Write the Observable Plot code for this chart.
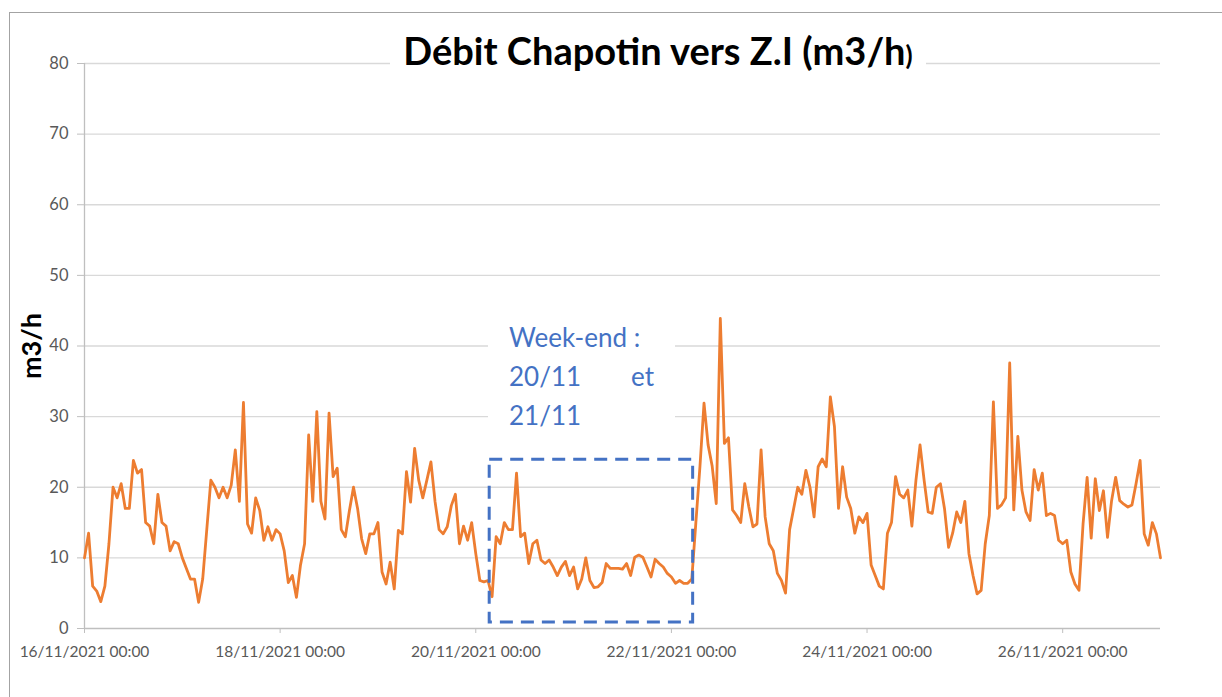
<!DOCTYPE html>
<html>
<head>
<meta charset="utf-8">
<script src="https://cdn.jsdelivr.net/npm/d3@7"></script>
<script src="https://cdn.jsdelivr.net/npm/@observablehq/plot@0.6"></script>
<style>
  html, body { margin: 0; padding: 0; background: #fff; }
  #wrap { position: relative; width: 1222px; height: 697px; overflow: hidden; font-family: Lato, "Open Sans", sans-serif; }
  #chart { position: absolute; left: 0; top: 0; }
  #border { position: absolute; left: 9px; top: 12px; right: -5px; bottom: -5px; border-top: 1.3px solid #a3a3a3; border-left: 1.3px solid #a3a3a3; pointer-events: none; }
  #title { position: absolute; left: 390px; top: 27px; width: 536px; height: 46px; line-height: 46px; text-align: center; background: #fff; font-size: 38px; font-weight: bold; color: #000; white-space: nowrap; }
  #title .small { font-size: 26px; }
  #note { position: absolute; left: 488px; top: 318px; width: 187px; height: 122px; background: #fff; color: #4472C4; font-size: 26px; line-height: 39px; padding-left: 21px; box-sizing: border-box; white-space: nowrap; }
  #note .gap { display: inline-block; width: 122px; }
</style>
</head>
<body>
<div id="wrap">
  <div id="chart"></div>
  <div id="border"></div>
  <div id="title">Débit Chapotin vers Z.I (m3/h<span class="small">)</span></div>
  <div id="note"><div>Week-end :</div><div><span class="gap">20/11</span>et</div><div>21/11</div></div>
</div>
<script>
// Hourly flow values (m3/h), one array per day starting at 00:00
const day16 = [10, 13.5, 6, 5.3, 3.8, 6, 12, 20, 18.5, 20.5, 17, 17, 23.8, 22, 22.5, 15, 14.5, 12, 19, 15, 14.5, 11, 12.3, 12];
const day17 = [10, 8.5, 7, 7, 3.7, 7, 14, 21, 20, 18.5, 20, 18.5, 20.3, 25.3, 18, 32, 14.8, 13.5, 18.5, 16.7, 12.5, 14.4, 12.5, 14];
const day18 = [13.4, 11, 6.5, 7.5, 4.4, 9, 12, 27.4, 18, 30.7, 18, 15.5, 30.5, 21.5, 22.7, 14, 13, 16.7, 20, 17, 12.7, 10.6, 13.4, 13.4];
const day19 = [15, 8, 6.3, 9.4, 5.6, 13.9, 13.4, 22.2, 17.9, 25.5, 21, 18.5, 21, 23.6, 18, 14, 13.4, 14.4, 17.4, 19, 12, 14.5, 12.5, 15];
const day20 = [10.6, 6.8, 6.6, 6.8, 4.5, 13, 12, 15, 14, 14, 22, 13, 13.5, 9.2, 12, 12.5, 9.7, 9.2, 9.7, 8.7, 7.5, 8.7, 9.5, 7.5];
const day21 = [8.7, 5.6, 7, 10, 6.8, 5.8, 5.9, 6.5, 9.2, 8.5, 8.5, 8.5, 8.4, 9.2, 7.5, 10.1, 10.4, 10.1, 8.7, 7.3, 9.8, 9.2, 8.7, 7.8];
const day22 = [7.3, 6.4, 6.8, 6.4, 6.4, 7, 15, 22.9, 31.9, 26, 23, 17.7, 43.9, 26.2, 27, 16.8, 16, 15, 20.5, 17.2, 14.4, 14.8, 25.3, 15.8];
const day23 = [12, 11, 7.8, 6.8, 5, 14, 17, 20, 19, 22.4, 20, 15.8, 22.9, 24, 22.9, 32.8, 28.6, 17, 22.9, 18.6, 17, 13.5, 15.8, 15];
const day24 = [16.3, 9, 7.5, 6, 5.6, 13.5, 15, 21.5, 19, 18.5, 19.6, 14.5, 21, 26, 21, 16.5, 16.3, 20, 20.5, 17, 11.5, 13.5, 16.5, 15];
const day25 = [18, 10.6, 7.5, 4.9, 5.4, 12, 16, 32.1, 17, 17.5, 18.5, 37.6, 16.8, 27.2, 19.6, 16.5, 15.3, 22.5, 19.6, 22, 16, 16.3, 16, 12.5];
const day26 = [12, 12.5, 8, 6.3, 5.4, 14.8, 21.4, 12.8, 21.2, 16.7, 19.5, 12.9, 18.1, 21.4, 18.1, 17.6, 17.2, 17.5, 20.5, 23.8, 13.4, 11.8, 15, 13.4];
const lastValue = [10];

const yTicks = [0, 10, 20, 30, 40, 50, 60, 70, 80];
const xTickLabels = ["16/11/2021 00:00", "18/11/2021 00:00", "20/11/2021 00:00", "22/11/2021 00:00", "24/11/2021 00:00", "26/11/2021 00:00"];
const xTickDays = [16, 18, 20, 22, 24, 26];

// Week-end annotation box (dates and flow range)
const boxStart = [2021, 10, 20, 3, 25];
const boxEnd = [2021, 10, 22, 5, 20];
const boxLow = 0.85;
const boxHigh = 23.9;

const series = [].concat(day16, day17, day18, day19, day20, day21, day22, day23, day24, day25, day26, lastValue);
const t0 = Date.UTC(2021, 10, 16);
const data = series.map((v, i) => ({ t: new Date(t0 + i * 3600e3), v }));
const xTicks = xTickDays.map(d => new Date(Date.UTC(2021, 10, d)));
const weekendBox = [{ x1: new Date(Date.UTC(...boxStart)), x2: new Date(Date.UTC(...boxEnd)), y1: boxLow, y2: boxHigh }];

const chart = Plot.plot({
  width: 1222,
  height: 697,
  marginTop: 63,
  marginLeft: 84,
  marginRight: 62,
  marginBottom: 69,
  style: { fontFamily: "Lato, 'Open Sans', sans-serif", fontSize: "16px", background: "transparent", overflow: "visible" },
  x: { type: "utc", domain: [new Date(t0), new Date(Date.UTC(2021, 10, 27))] },
  y: { domain: [0, 80] },
  marks: [
    Plot.gridY(yTicks.filter(d => d > 0), { stroke: "#d9d9d9", strokeOpacity: 1, strokeWidth: 1.3 }),
    Plot.ruleY([0], { stroke: "#bfbfbf", strokeWidth: 1.3 }),
    Plot.ruleX([new Date(t0)], { stroke: "#bfbfbf", strokeWidth: 1.3 }),
    Plot.axisY(yTicks, { tickSize: 7, tickPadding: 9, stroke: "#bfbfbf", fill: "#595959", label: null, fontSize: 16.5 }),
    Plot.axisX(xTicks, {
      tickSize: 5, tickPadding: 12, stroke: "#bfbfbf", fill: "#595959", label: null, fontSize: 15.5,
      tickFormat: d => xTickLabels[xTicks.findIndex(t => +t === +d)]
    }),
    Plot.line(data, { x: "t", y: "v", stroke: "#ED7D31", strokeWidth: 2.8, strokeLinejoin: "round" }),
    Plot.rect(weekendBox, { x1: "x1", x2: "x2", y1: "y1", y2: "y2", fill: "none", stroke: "#4472C4", strokeWidth: 3, strokeDasharray: "13,8" }),
    Plot.text(["m3/h"], { frameAnchor: "left", dx: -52, rotate: -90, textAnchor: "middle", fontSize: 27, fontWeight: "bold", fill: "#000" })
  ]
});
document.getElementById("chart").appendChild(chart);
</script>
</body>
</html>
